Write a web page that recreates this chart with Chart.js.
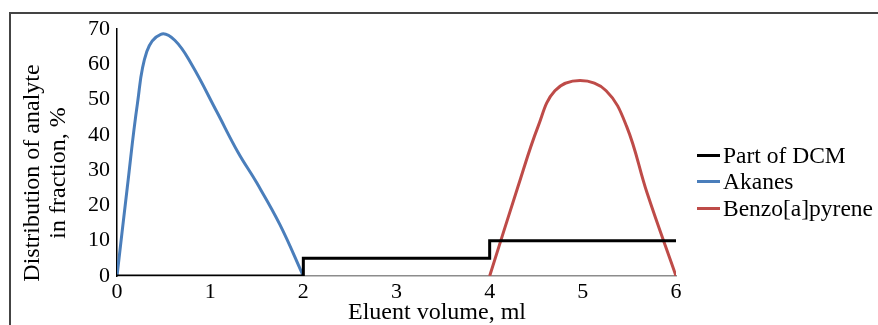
<!DOCTYPE html>
<html>
<head>
<meta charset="utf-8">
<script src="https://cdn.jsdelivr.net/npm/chart.js@4/dist/chart.umd.min.js"></script>
<style>
  body { margin: 0; background: #fff; }
  #wrap { position: relative; width: 878px; height: 325px; overflow: hidden; }
  #frame { position: absolute; left: 9px; top: 12px; width: 900px; height: 400px;
           border-top: 2px solid #444; border-left: 2px solid #444; }
  #legend { position: absolute; left: 697px; top: 142px; font-family: "Liberation Serif", serif;
            font-size: 23.5px; color: #000; }
  #legend .row { display: flex; align-items: center; height: 26.5px; white-space: nowrap; }
  #legend .swatch { width: 23px; height: 3px; margin-right: 3px; }
  canvas { position: absolute; left: 0; top: 0; }
</style>
</head>
<body>
<div id="wrap">
  <div id="frame"></div>
  <canvas id="chart" width="878" height="325"></canvas>
  <div id="legend"></div>
</div>
<script>
// eluent volume (ml) / distribution (%)
const dcmX = [0, 2, 2, 4, 4, 6];
const dcmY = [0, 0, 5, 5, 10, 10];

const alkX = [0, 0.11, 0.22, 0.32, 0.47, 0.62, 0.8, 1.07, 1.3, 1.5, 1.75, 2];
const alkY = [0, 25, 49, 63.6, 68.5, 66.8, 60, 46.6, 35, 26.4, 14.5, 0];

const bapX = [4, 4.3, 4.52, 4.7, 4.97, 5.25, 5.47, 5.69, 6];
const bapY = [0, 25, 42.4, 52.5, 55.4, 52.5, 42.4, 23.5, 0];

const seriesNames = ['Part of DCM', 'Akanes', 'Benzo[a]pyrene'];
const xTicks = [0, 1, 2, 3, 4, 5, 6];
const yTicks = [0, 10, 20, 30, 40, 50, 60, 70];
const xTitle = 'Eluent volume, ml';
const yTitle = ['Distribution of analyte', 'in fraction, %'];

const pts = (xs, ys) => xs.map((x, i) => ({ x: x, y: ys[i] }));
const serif = '"Liberation Serif", serif';

// axis titles are off-centre in the original, so place them by hand
const axisTitles = {
    id: 'axisTitles',
    afterDraw(chart) {
        const ctx = chart.ctx;
        ctx.save();
        ctx.fillStyle = '#000';
        ctx.font = '24px ' + serif;
        ctx.textAlign = 'center';
        ctx.textBaseline = 'middle';
        ctx.fillText(xTitle, 437, 313);
        ctx.translate(33, 173);
        ctx.rotate(-Math.PI / 2);
        yTitle.forEach((t, i) => ctx.fillText(t, 0, i * 26));
        ctx.restore();
    }
};

const chart = new Chart(document.getElementById('chart'), {
    type: 'line',
    data: {
        datasets: [
            { label: seriesNames[0], data: pts(dcmX, dcmY), borderColor: '#000', borderWidth: 3, tension: 0 },
            { label: seriesNames[1], data: pts(alkX, alkY), borderColor: '#4A7EBB', borderWidth: 3, tension: 0.4 },
            { label: seriesNames[2], data: pts(bapX, bapY), borderColor: '#BE4B48', borderWidth: 3, tension: 0.4 }
        ]
    },
    options: {
        responsive: false,
        animation: false,
        layout: { padding: { left: 0, top: 29, right: 202, bottom: 0 } },
        elements: { point: { radius: 0 } },
        scales: {
            x: {
                type: 'linear', min: 0, max: 6,
                afterFit: (s) => { s.height = 49; },
                afterBuildTicks: (s) => { s.ticks = xTicks.map(v => ({ value: v })); },
                grid: { display: false, drawTicks: false },
                border: { display: true, color: '#8c8c8c', width: 1.5 },
                ticks: { color: '#000', padding: 3, font: { family: serif, size: 22 } }
            },
            y: {
                min: 0, max: 70,
                afterFit: (s) => { s.width = 117; },
                afterBuildTicks: (s) => { s.ticks = yTicks.map(v => ({ value: v })); },
                grid: { display: false, drawTicks: false },
                border: { display: true, color: '#000', width: 1.5 },
                ticks: { color: '#000', padding: 7, font: { family: serif, size: 22 } }
            }
        },
        plugins: { legend: { display: false }, tooltip: { enabled: false } }
    },
    plugins: [axisTitles]
});

// legend in the original order
const legend = document.getElementById('legend');
chart.data.datasets.forEach(ds => {
    const row = document.createElement('div');
    row.className = 'row';
    const sw = document.createElement('span');
    sw.className = 'swatch';
    sw.style.background = ds.borderColor;
    const txt = document.createElement('span');
    txt.textContent = ds.label;
    row.appendChild(sw);
    row.appendChild(txt);
    legend.appendChild(row);
});
</script>
</body>
</html>
